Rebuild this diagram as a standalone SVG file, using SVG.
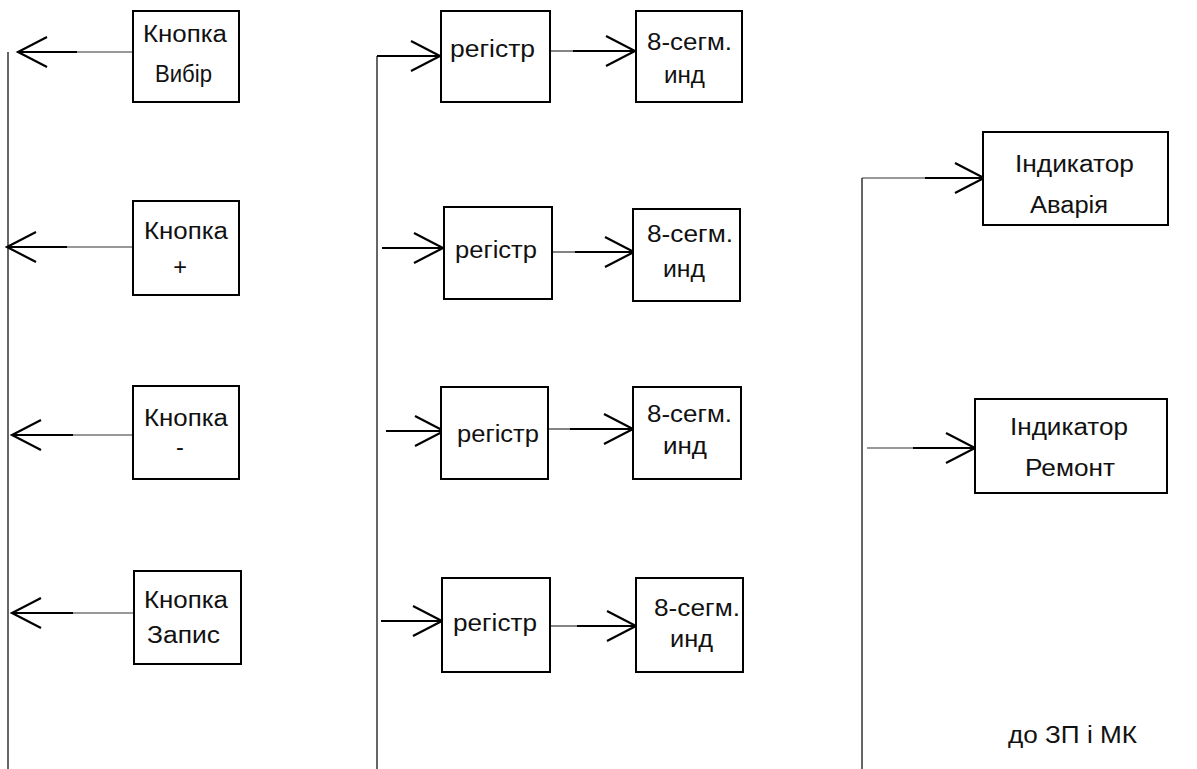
<svg xmlns="http://www.w3.org/2000/svg" width="1197" height="769" viewBox="0 0 1197 769">
<defs>
<style>
.box{fill:#fff;stroke:#000;stroke-width:2}
.t{font-family:"Liberation Sans",Arial,sans-serif;font-size:23.5px;fill:#111}
.thin{stroke:#333;stroke-width:1.2;fill:none}
.thick{stroke:#000;stroke-width:2;fill:none;marker-end:url(#ah)}
.bus{stroke:#333;stroke-width:1.5;fill:none}
</style>
<marker id="ah" markerUnits="userSpaceOnUse" viewBox="0 0 34 34" markerWidth="34" markerHeight="34" refX="30" refY="17" orient="auto">
<path d="M1,2 L30,17 L1,32" fill="none" stroke="#000" stroke-width="2.2"/>
</marker>
</defs>
<rect width="1197" height="769" fill="#fff"/>
<g id="connectors">
<line class="bus" x1="8" y1="52" x2="8" y2="769"/>
<line class="thin" x1="133" y1="52" x2="77" y2="52"/><line class="thick" x1="77" y1="52" x2="18" y2="52"/>
<line class="thin" x1="133" y1="247" x2="67" y2="247"/><line class="thick" x1="67" y1="247" x2="7" y2="247"/>
<line class="thin" x1="133" y1="435" x2="73" y2="435"/><line class="thick" x1="73" y1="435" x2="12" y2="435"/>
<line class="thin" x1="134" y1="613" x2="73" y2="613"/><line class="thick" x1="73" y1="613" x2="12" y2="613"/>
<line class="bus" x1="377" y1="56" x2="377" y2="769"/>
<line class="thick" x1="377" y1="56" x2="440" y2="56"/>
<line class="thin" x1="550" y1="51" x2="573" y2="51"/><line class="thick" x1="573" y1="51" x2="635" y2="51"/>
<line class="thick" x1="382" y1="248" x2="443" y2="248"/>
<line class="thin" x1="552" y1="252" x2="575" y2="252"/><line class="thick" x1="575" y1="252" x2="634" y2="252"/>
<line class="thick" x1="386" y1="431" x2="444" y2="431"/>
<line class="thin" x1="548" y1="429" x2="570" y2="429"/><line class="thick" x1="570" y1="429" x2="633" y2="429"/>
<line class="thick" x1="381" y1="621" x2="442" y2="621"/>
<line class="thin" x1="550" y1="626" x2="577" y2="626"/><line class="thick" x1="577" y1="626" x2="636" y2="626"/>
<line class="bus" x1="862" y1="178" x2="862" y2="769"/>
<line class="thin" x1="862" y1="178" x2="925" y2="178"/><line class="thick" x1="925" y1="178" x2="984" y2="178"/>
<line class="thin" x1="867" y1="448" x2="913" y2="448"/><line class="thick" x1="913" y1="448" x2="975" y2="448"/>
</g>
<g id="btn-vybir"><rect class="box" x="133" y="11" width="106" height="91"/>
<text class="t" x="143" y="42" textLength="84" lengthAdjust="spacingAndGlyphs">Кнопка</text>
<text class="t" x="155" y="82" textLength="57" lengthAdjust="spacingAndGlyphs">Вибір</text></g>
<g id="btn-plus"><rect class="box" x="133" y="201" width="106" height="94"/>
<text class="t" x="144" y="239" textLength="84" lengthAdjust="spacingAndGlyphs">Кнопка</text>
<text class="t" x="180" y="275" text-anchor="middle">+</text></g>
<g id="btn-minus"><rect class="box" x="133" y="386" width="106" height="93"/>
<text class="t" x="144" y="426" textLength="84" lengthAdjust="spacingAndGlyphs">Кнопка</text>
<text class="t" x="180" y="455" text-anchor="middle">-</text></g>
<g id="btn-zapys"><rect class="box" x="134" y="571" width="107" height="93"/>
<text class="t" x="144" y="608" textLength="84" lengthAdjust="spacingAndGlyphs">Кнопка</text>
<text class="t" x="147" y="643" textLength="73" lengthAdjust="spacingAndGlyphs">Запис</text></g>
<g id="reg1"><rect class="box" x="441" y="11" width="109" height="91"/>
<text class="t" x="450" y="57" textLength="85" lengthAdjust="spacingAndGlyphs">регістр</text></g>
<g id="reg2"><rect class="box" x="444" y="207" width="108" height="92"/>
<text class="t" x="455" y="258" textLength="82" lengthAdjust="spacingAndGlyphs">регістр</text></g>
<g id="reg3"><rect class="box" x="441" y="387" width="107" height="92"/>
<text class="t" x="457" y="442" textLength="82" lengthAdjust="spacingAndGlyphs">регістр</text></g>
<g id="reg4"><rect class="box" x="442" y="578" width="108" height="94"/>
<text class="t" x="453" y="631" textLength="84" lengthAdjust="spacingAndGlyphs">регістр</text></g>
<g id="seg1"><rect class="box" x="636" y="11" width="106" height="91"/>
<text class="t" x="647" y="50" textLength="85" lengthAdjust="spacingAndGlyphs">8-сегм.</text>
<text class="t" x="664" y="83" textLength="41" lengthAdjust="spacingAndGlyphs">инд</text></g>
<g id="seg2"><rect class="box" x="633" y="209" width="107" height="92"/>
<text class="t" x="647" y="242" textLength="86" lengthAdjust="spacingAndGlyphs">8-сегм.</text>
<text class="t" x="663" y="277" textLength="42" lengthAdjust="spacingAndGlyphs">инд</text></g>
<g id="seg3"><rect class="box" x="633" y="387" width="108" height="92"/>
<text class="t" x="647" y="422" textLength="85" lengthAdjust="spacingAndGlyphs">8-сегм.</text>
<text class="t" x="663" y="454" textLength="44" lengthAdjust="spacingAndGlyphs">инд</text></g>
<g id="seg4"><rect class="box" x="636" y="578" width="107" height="94"/>
<text class="t" x="654" y="616" textLength="86" lengthAdjust="spacingAndGlyphs">8-сегм.</text>
<text class="t" x="670" y="647" textLength="43" lengthAdjust="spacingAndGlyphs">инд</text></g>
<g id="ind-avaria"><rect class="box" x="983" y="132" width="185" height="93"/>
<text class="t" x="1015" y="172" textLength="119" lengthAdjust="spacingAndGlyphs">Індикатор</text>
<text class="t" x="1030" y="213" textLength="78" lengthAdjust="spacingAndGlyphs">Аварія</text></g>
<g id="ind-remont"><rect class="box" x="975" y="399" width="192" height="94"/>
<text class="t" x="1010" y="435" textLength="118" lengthAdjust="spacingAndGlyphs">Індикатор</text>
<text class="t" x="1025" y="476" textLength="90" lengthAdjust="spacingAndGlyphs">Ремонт</text></g>
<g id="label"><text class="t" x="1008" y="743" textLength="129" lengthAdjust="spacingAndGlyphs">до ЗП і МК</text></g>
</svg>
